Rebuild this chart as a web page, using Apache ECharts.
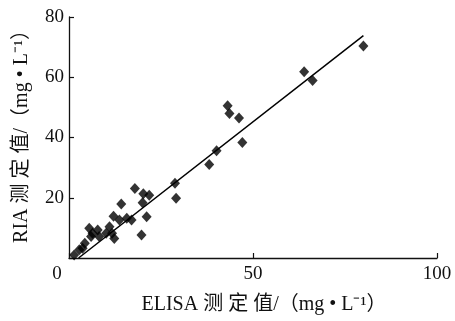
<!DOCTYPE html>
<html><head><meta charset="utf-8">
<script src="https://cdn.jsdelivr.net/npm/echarts@6/dist/echarts.min.js"></script>
<style>html,body{margin:0;padding:0;background:#fff}#c{width:455px;height:321px}</style>
</head><body><div id="c"></div>
<script>
var elisaValues = [1.4,2.8,3.7,4.3,5.5,6.0,6.4,7.8,8.2,10.1,11.0,11.7,12.3,12.1,13.7,14.2,15.7,17.0,17.9,19.7,20.2,21.8,20.0,21.1,28.8,29.1,38.1,40.1,43.1,43.6,46.2,47.1,63.9,66.2,80.0];
var riaValues   = [1.0,2.7,3.2,4.9,9.9,7.1,8.2,9.3,7.1,8.2,10.4,8.2,6.5,13.9,12.6,17.9,13.2,12.6,23.1,7.6,21.3,20.8,18.3,13.7,24.8,19.8,31.0,35.6,50.5,48.0,46.5,38.3,61.8,58.9,70.4];
var fitLineX = [2.6, 80.0];
var fitLineY = [0.0, 73.8];
var xTicks = [0, 50, 100];
var yTicks = [0, 20, 40, 60, 80];
var xName = 'ELISA 测 定 值/（mg • L⁻¹）';
var yName = 'RIA 测 定 值/（mg • L⁻¹）';

var FONT = '"Liberation Serif", "Noto Sans CJK SC", serif';
var pts = elisaValues.map(function(v,i){return [v, riaValues[i]];});
var linePts = fitLineX.map(function(v,i){return [v, fitLineY[i]];});

var chart = echarts.init(document.getElementById('c'), null, {renderer:'canvas'});
chart.setOption({
  animation:false,
  backgroundColor:'#fff',
  grid:{left:69, top:17, width:368, height:241, containLabel:false},
  xAxis:{
    type:'value', min:xTicks[0], max:xTicks[xTicks.length-1], interval:50,
    name:xName, nameLocation:'middle', nameGap:37,
    nameTextStyle:{fontFamily:FONT, fontSize:20, color:'#111', padding:[0,0,0,22]},
    axisLine:{show:true, lineStyle:{color:'#111', width:1.3}},
    axisTick:{show:true, inside:true, length:5, lineStyle:{color:'#111', width:1.2}},
    axisLabel:{
      fontFamily:FONT, fontSize:19, color:'#111', margin:7,
      formatter:function(v){ return v===0 ? '{z|0}' : String(v); },
      rich:{z:{fontFamily:FONT, fontSize:19, color:'#111', padding:[0,24,0,0]}}
    },
    splitLine:{show:false}
  },
  yAxis:{
    type:'value', min:yTicks[0], max:yTicks[yTicks.length-1], interval:20,
    name:yName, nameLocation:'middle', nameGap:37, nameRotate:90,
    nameTextStyle:{fontFamily:FONT, fontSize:20, color:'#111', padding:[0,0,0,12]},
    axisLine:{show:true, lineStyle:{color:'#111', width:1.3}},
    axisTick:{show:true, inside:true, length:5, lineStyle:{color:'#111', width:1.2}},
    axisLabel:{
      fontFamily:FONT, fontSize:19, color:'#111', margin:5,
      formatter:function(v){ return v===0 ? '' : String(v); }
    },
    splitLine:{show:false}
  },
  series:[
    {type:'scatter', data:pts, symbol:'diamond', symbolSize:[10,11],
     itemStyle:{color:'#000'}, z:3},
    {type:'line', data:linePts, symbol:'none', lineStyle:{color:'#000', width:1.5}, z:2}
  ]
});
</script></body></html>
